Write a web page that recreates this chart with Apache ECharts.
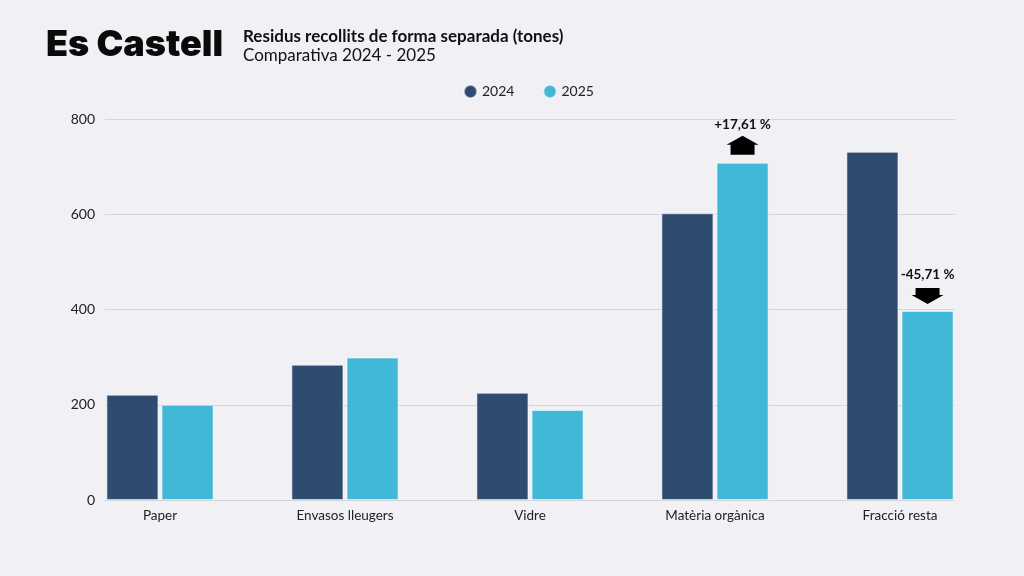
<!DOCTYPE html>
<html>
<head>
<meta charset="utf-8">
<script src="https://cdn.jsdelivr.net/npm/echarts@6/dist/echarts.min.js"></script>
<style>
html,body{margin:0;padding:0;background:#f1f0f5;}
#chart{width:1024px;height:576px;}
</style>
</head>
<body>
<div id="chart"></div>
<script>
var categories = ['Paper', 'Envasos lleugers', 'Vidre', 'Matèria orgànica', 'Fracció resta'];
var values2024 = [221, 284, 225, 602, 731];
var values2025 = [200, 299, 189, 708, 397];
var yTicks = [0, 200, 400, 600, 800];
var changeIndex = [3, 4];
var changeLabels = ['+17,61 %', '-45,71 %'];
var changeDir = ['up', 'down'];

var FONT = 'Lato';
var upPath = 'path://M16,0L32,9L28,9L28,19L4,19L4,9L0,9Z';
var downPath = 'path://M4,0L28,0L28,7L32,7L16,16L0,7L4,7Z';

var markData = changeIndex.map(function (idx, i) {
  var up = changeDir[i] === 'up';
  return {
    coord: [idx, values2025[idx]],
    symbol: up ? upPath : downPath,
    symbolSize: up ? [32, 19] : [32, 16],
    symbolOffset: [0, up ? -17.5 : -15],
    itemStyle: { color: '#000' },
    label: {
      show: true,
      position: 'top',
      distance: up ? 4 : 6,
      formatter: changeLabels[i],
      color: '#111',
      fontFamily: FONT,
      fontWeight: 'bold',
      fontSize: 13.5
    }
  };
});

var chart = echarts.init(document.getElementById('chart'), null, { renderer: 'canvas' });
chart.setOption({
  backgroundColor: '#f1f0f5',
  animation: false,
  title: [
    { text: 'Es Castell', left: 41, top: 22,
      textStyle: { fontFamily: 'Inter', fontWeight: 900, fontSize: 36, color: '#0a0a0a' } },
    { text: 'Residus recollits de forma separada (tones)', left: 238, top: 23,
      textStyle: { fontFamily: FONT, fontWeight: 'bold', fontSize: 17, color: '#111' } },
    { text: 'Comparativa 2024 - 2025', left: 238, top: 42,
      textStyle: { fontFamily: FONT, fontWeight: 'normal', fontSize: 17, color: '#111' } }
  ],
  legend: {
    left: 458, top: 79,
    icon: 'circle', itemWidth: 13, itemHeight: 13, itemGap: 28,
    textStyle: { fontFamily: FONT, fontSize: 14, color: '#222' },
    data: ['2024', '2025']
  },
  grid: [
    { left: 105, right: 69, top: 119, bottom: 76 },
    { left: 67.5, right: 31.5, top: 119, bottom: 76 }
  ],
  xAxis: [
    { gridIndex: 0, type: 'value', min: 0, max: 1, show: false },
    { gridIndex: 1, type: 'category', data: categories,
      axisLine: { show: false }, axisTick: { show: false },
      axisLabel: { fontFamily: FONT, fontSize: 13.5, color: '#222', margin: 9 } }
  ],
  yAxis: [
    { gridIndex: 0, type: 'value', min: yTicks[0], max: yTicks[yTicks.length - 1], interval: 200,
      axisLine: { show: false }, axisTick: { show: false },
      axisLabel: { fontFamily: FONT, fontSize: 14, color: '#222', margin: 10 },
      splitLine: { lineStyle: { color: '#d6d5db', width: 1 } } },
    { gridIndex: 1, type: 'value', min: yTicks[0], max: yTicks[yTicks.length - 1], interval: 200, show: false,
      splitLine: { show: false } }
  ],
  series: [
    { name: '2024', type: 'bar', xAxisIndex: 1, yAxisIndex: 1, data: values2024,
      barWidth: 52, barGap: '6%',
      itemStyle: { color: '#2e4b70', borderColor: 'rgba(255,255,255,0.5)', borderWidth: 1 } },
    { name: '2025', type: 'bar', xAxisIndex: 1, yAxisIndex: 1, data: values2025,
      barWidth: 52, barGap: '6%',
      itemStyle: { color: '#41b8d7', borderColor: 'rgba(255,255,255,0.5)', borderWidth: 1 },
      markPoint: { data: markData, silent: true } }
  ]
});
</script>
</body>
</html>
